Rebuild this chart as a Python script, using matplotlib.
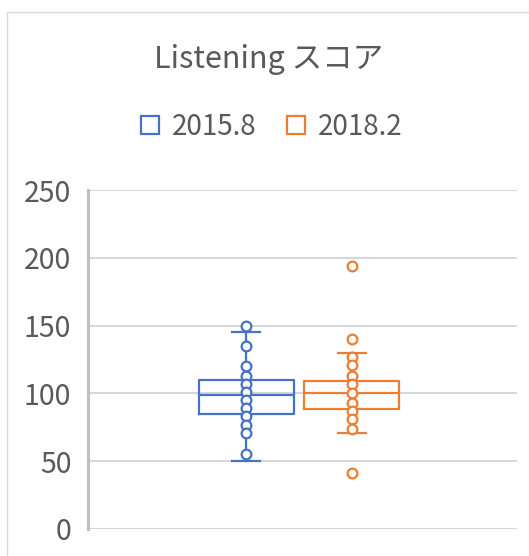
import matplotlib.pyplot as plt
from matplotlib.lines import Line2D
from matplotlib.patches import Rectangle

plt.rcParams['font.family'] = ['Noto Sans CJK JP', 'DejaVu Sans']

title = "Listening スコア"
series = ["2015.8", "2018.2"]
colors = ["#4472C4", "#ED7D31"]

# box statistics
q1 = [84.5, 88.8]
med = [98.6, 100.4]
q3 = [109.7, 109.0]
whislo = [50.3, 70.5]
whishi = [145.0, 129.7]

# points drawn by Excel (inner points + outliers)
points_2015 = [150, 135, 120, 113, 107, 101, 95, 89, 83, 77, 71, 55]
points_2018 = [194, 140, 127, 121, 113, 107, 100, 93, 87, 81, 74, 41]
points = [points_2015, points_2018]

yticks = [0, 50, 100, 150, 200, 250]

fig = plt.figure(figsize=(5.29, 5.56), dpi=100)
ax = fig.add_axes([88 / 529, 1 - 529 / 556, (517 - 88) / 529, (529 - 190) / 556])

# chart border
fig.patches.append(Rectangle((7 / 529, -0.1), 1.2, 1 - 12 / 556 + 0.1,
                             transform=fig.transFigure, fill=False,
                             edgecolor="#d9d9d9", linewidth=1.0))

pos = [0.369, 0.615]
width = 0.222
for i in range(2):
    stats = [dict(q1=q1[i], med=med[i], q3=q3[i], whislo=whislo[i],
                  whishi=whishi[i], fliers=[])]
    c = colors[i]
    ax.bxp(stats, positions=[pos[i]], widths=width, capwidths=0.066,
           showfliers=False,
           boxprops=dict(color=c, linewidth=1.6),
           medianprops=dict(color=c, linewidth=1.6),
           whiskerprops=dict(color=c, linewidth=1.6),
           capprops=dict(color=c, linewidth=1.6))
    ax.plot([pos[i]] * len(points[i]), points[i], linestyle="none", marker="o",
            markersize=7, markerfacecolor="white", markeredgecolor=c,
            markeredgewidth=1.6, zorder=5)

ax.set_xlim(0, 1)
ax.set_ylim(0, 250)
ax.set_yticks(yticks)
ax.set_xticks([])
ax.yaxis.grid(True, color="#d0d0d0", linewidth=1.2)
ax.set_axisbelow(True)
ax.tick_params(axis="y", length=0, pad=12, labelsize=20.5, labelcolor="#595959")
for s in ["top", "right", "bottom"]:
    ax.spines[s].set_visible(False)
ax.spines["left"].set_color("#bfbfbf")
ax.spines["left"].set_linewidth(2.2)

fig.text(0.508, 1 - 68 / 556, title, ha="center", va="baseline",
         fontsize=22, color="#595959")

handles = [Line2D([], [], linestyle="none", marker="s", markersize=13,
                  markerfacecolor="white", markeredgecolor=c, markeredgewidth=1.6)
           for c in colors]
fig.legend(handles, series, loc="center", bbox_to_anchor=(0.512, 1 - 127 / 556),
           ncol=2, frameon=False, fontsize=20, labelcolor="#595959",
           handlelength=0.8, handletextpad=0.4, columnspacing=1.0)

fig.savefig("out.png", dpi=100)
